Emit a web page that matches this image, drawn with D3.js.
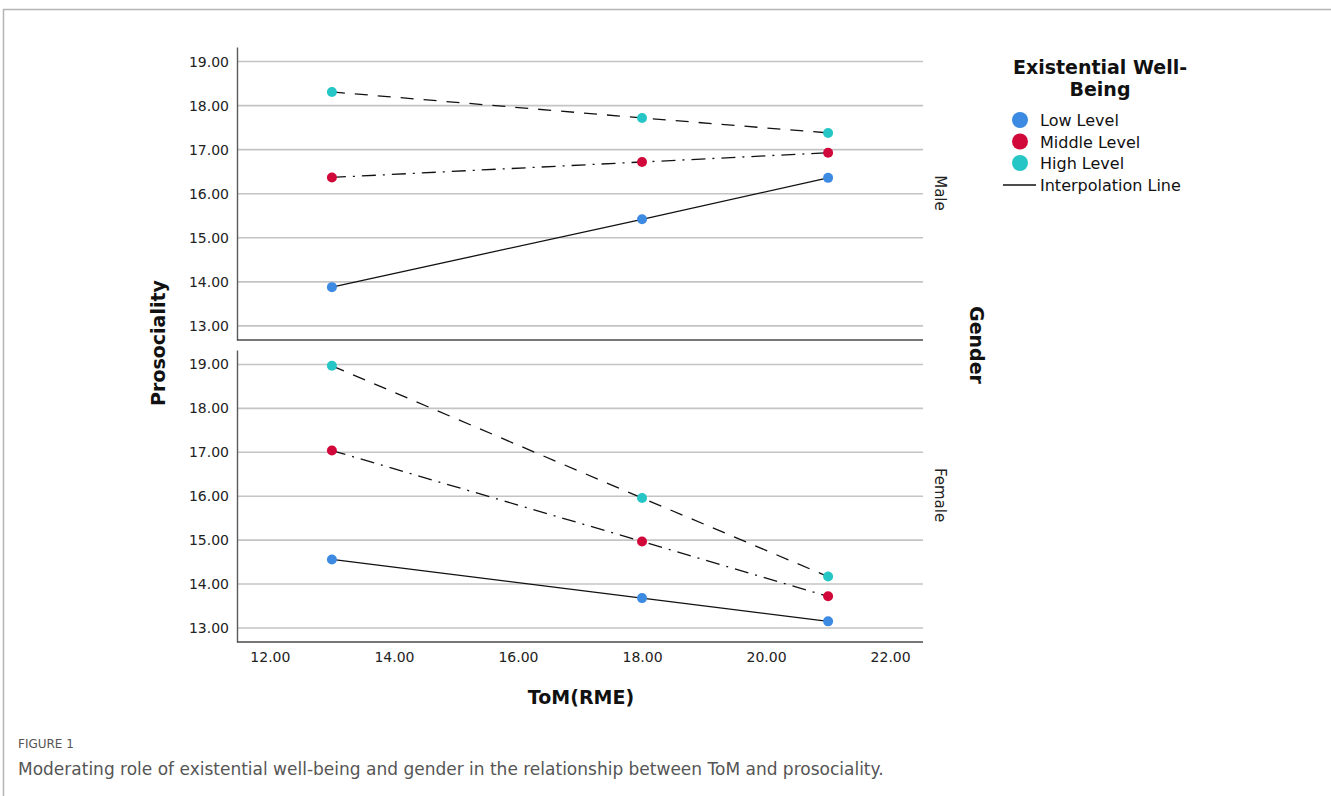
<!DOCTYPE html>
<html>
<head>
<meta charset="utf-8">
<script src="https://cdn.jsdelivr.net/npm/d3@7"></script>
<style>
  body { margin: 0; background: #fff; }
  text { font-family: "DejaVu Sans", sans-serif; }
</style>
</head>
<body>
<div id="chart"></div>
<script>
// Chart values
var tomValues = [13, 18, 21];
var levels = ["Low Level", "Middle Level", "High Level"];
var genders = ["Male", "Female"];
var yTicks = [13, 14, 15, 16, 17, 18, 19];
var xTicks = [12, 14, 16, 18, 20, 22];

// prosociality per gender, per level, at each ToM value
var maleLow = [13.88, 15.42, 16.36];
var maleMiddle = [16.37, 16.72, 16.93];
var maleHigh = [18.31, 17.72, 17.38];
var femaleLow = [14.56, 13.68, 13.15];
var femaleMiddle = [17.04, 14.97, 13.72];
var femaleHigh = [18.97, 15.96, 14.17];

var levelColors = ["#3d8ae2", "#d1083a", "#27c6c6"];
var levelDash = [null, "14,7,2,7", "13,10"];

var svgWidth = 1331;
var svgHeight = 796;

var svg = d3.select("#chart")
  .append("svg")
  .attr("width", svgWidth)
  .attr("height", svgHeight);

// page frame
svg.append("line").attr("x1", 3).attr("x2", svgWidth).attr("y1", 9.5).attr("y2", 9.5)
  .attr("stroke", "#b5b5b5").attr("stroke-width", 1.5);
svg.append("line").attr("x1", 3.5).attr("x2", 3.5).attr("y1", 9).attr("y2", svgHeight)
  .attr("stroke", "#b5b5b5").attr("stroke-width", 1.5);

var plotLeft = 237, plotRight = 923;
var x = d3.scaleLinear().domain([11.47, 22.53]).range([plotLeft, plotRight]);

var panels = [
  { name: "Male", top: 47, bottom: 340, series: [maleLow, maleMiddle, maleHigh] },
  { name: "Female", top: 350, bottom: 642, series: [femaleLow, femaleMiddle, femaleHigh] }
];

panels.forEach(function(p) {
  var y = d3.scaleLinear().domain([12.68, 19.33]).range([p.bottom, p.top]);
  var g = svg.append("g");

  // gridlines
  g.selectAll(".grid").data(yTicks).enter().append("line")
    .attr("x1", plotLeft).attr("x2", plotRight)
    .attr("y1", d => y(d)).attr("y2", d => y(d))
    .attr("stroke", "#c4c4c4").attr("stroke-width", 1.6);

  // left axis with labels only
  var leftAxis = d3.axisLeft(y).tickValues(yTicks).tickSize(0).tickPadding(8)
    .tickFormat(d3.format(".2f"));
  var ax = g.append("g").attr("transform", `translate(${plotLeft},0)`).call(leftAxis);
  ax.select(".domain").attr("stroke", "#5a5a5a").attr("stroke-width", 1.4);
  ax.selectAll("text").attr("font-size", 14).attr("fill", "#222")
    .attr("font-family", "DejaVu Sans, sans-serif");

  // bottom line of the panel
  g.append("line").attr("x1", plotLeft).attr("x2", plotRight)
    .attr("y1", p.bottom).attr("y2", p.bottom)
    .attr("stroke", "#4a4a4a").attr("stroke-width", 1.6);

  // interpolation lines
  var line = d3.line().x((d, i) => x(tomValues[i])).y(d => y(d));
  p.series.forEach(function(vals, k) {
    g.append("path").datum(vals)
      .attr("d", line)
      .attr("fill", "none")
      .attr("stroke", "#111")
      .attr("stroke-width", 1.3)
      .attr("stroke-dasharray", levelDash[k]);
  });
  p.series.forEach(function(vals, k) {
    g.selectAll(".pt" + k).data(vals).enter().append("circle")
      .attr("cx", (d, i) => x(tomValues[i]))
      .attr("cy", d => y(d))
      .attr("r", 5)
      .attr("fill", levelColors[k]);
  });

  // facet label
  var cy = (p.top + p.bottom) / 2 + (p.name === "Male" ? -153 + 146 : 0);
  svg.append("text")
    .attr("transform", `translate(935,${p.name === "Male" ? 193 : 495}) rotate(90)`)
    .attr("text-anchor", "middle")
    .attr("font-size", 15)
    .attr("fill", "#222")
    .text(p.name);
});

// x axis labels (bottom panel)
var bottomAxis = d3.axisBottom(x).tickValues(xTicks).tickSize(0).tickPadding(10)
  .tickFormat(d3.format(".2f"));
var bx = svg.append("g").attr("transform", "translate(0,642)").call(bottomAxis);
bx.select(".domain").remove();
bx.selectAll("text").attr("font-size", 14).attr("fill", "#222")
  .attr("font-family", "DejaVu Sans, sans-serif");

// axis titles
svg.append("text")
  .attr("transform", "translate(165,343) rotate(-90)")
  .attr("text-anchor", "middle")
  .attr("font-size", 19).attr("font-weight", "bold").attr("fill", "#111")
  .text("Prosociality");

svg.append("text")
  .attr("x", 581).attr("y", 704)
  .attr("text-anchor", "middle")
  .attr("font-size", 19).attr("font-weight", "bold").attr("fill", "#111")
  .text("ToM(RME)");

svg.append("text")
  .attr("transform", "translate(970,345) rotate(90)")
  .attr("text-anchor", "middle")
  .attr("font-size", 19).attr("font-weight", "bold").attr("fill", "#111")
  .text("Gender");

// legend
var legend = svg.append("g");
legend.append("text").attr("x", 1100).attr("y", 74).attr("text-anchor", "middle")
  .attr("font-size", 19).attr("font-weight", "bold").attr("fill", "#111")
  .text("Existential Well-");
legend.append("text").attr("x", 1100).attr("y", 96).attr("text-anchor", "middle")
  .attr("font-size", 19).attr("font-weight", "bold").attr("fill", "#111")
  .text("Being");

levels.forEach(function(lv, k) {
  var ly = 120 + k * 21.5;
  legend.append("circle").attr("cx", 1020).attr("cy", ly).attr("r", 8)
    .attr("fill", levelColors[k]);
  legend.append("text").attr("x", 1040).attr("y", ly + 6)
    .attr("font-size", 16).attr("fill", "#111").text(lv);
});
legend.append("line").attr("x1", 1003).attr("x2", 1036).attr("y1", 185).attr("y2", 185)
  .attr("stroke", "#111").attr("stroke-width", 1.3);
legend.append("text").attr("x", 1040).attr("y", 191)
  .attr("font-size", 16).attr("fill", "#111").text("Interpolation Line");

// caption
svg.append("text").attr("x", 18).attr("y", 748)
  .attr("font-family", "Open Sans, sans-serif")
  .attr("font-size", 12).attr("fill", "#555")
  .text("FIGURE 1");
svg.append("text").attr("x", 18).attr("y", 775)
  .attr("font-family", "Open Sans, sans-serif")
  .attr("font-size", 17).attr("fill", "#555")
  .text("Moderating role of existential well-being and gender in the relationship between ToM and prosociality.");
</script>
</body>
</html>
